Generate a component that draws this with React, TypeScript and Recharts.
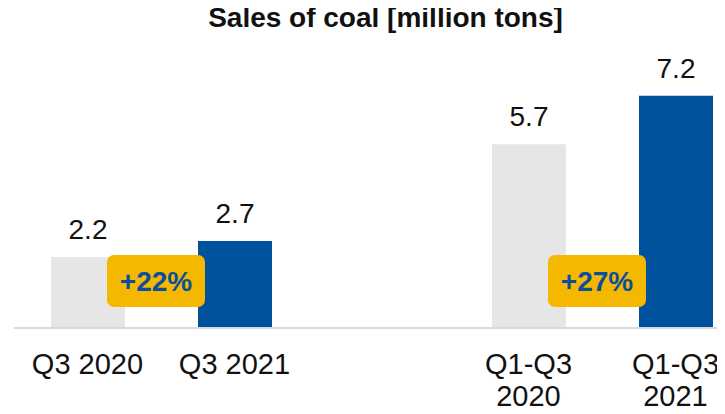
import React from 'react';
import { BarChart, Bar, XAxis, YAxis, Cell, LabelList } from 'recharts';

// categories, with an empty slot separating the quarter and the nine-month pair
const CATEGORIES = ['Q3 2020', 'Q3 2021', 'gap', 'Q1-Q3 2020', 'Q1-Q3 2021'];
const TICK_LINES: string[][] = [['Q3 2020'], ['Q3 2021'], [], ['Q1-Q3', '2020'], ['Q1-Q3', '2021']];
const SALES: (number | null)[] = [2.2, 2.7, null, 5.7, 7.2];
const GROWTH: (string | null)[] = ['+22%', null, null, '+27%', null];
const IS_CURRENT = [false, true, false, false, true];

const GREY = '#E6E6E6';
const BLUE = '#00529C';
const YELLOW = '#F5B800';
const FONT = '"Liberation Sans", Arial, sans-serif';

const data = CATEGORIES.map((name, i) => ({ name, value: SALES[i] }));

function Tick(props: any) {
  const { x, y, payload } = props;
  const idx = CATEGORIES.indexOf(payload.value);
  const lines = TICK_LINES[idx] ?? [];
  return (
    <g>
      {lines.map((line, i) => (
        <text
          key={i}
          x={x}
          y={y + 46 + i * 32}
          textAnchor="middle"
          fontSize={29}
          fontFamily={FONT}
          fill="#111"
        >
          {line}
        </text>
      ))}
    </g>
  );
}

function ValueLabel(props: any) {
  const { x, y, width, value } = props;
  if (value == null) return null;
  return (
    <text
      x={x + width / 2}
      y={y - 18}
      textAnchor="middle"
      fontSize={28}
      fontFamily={FONT}
      fill="#111"
    >
      {String(value)}
    </text>
  );
}

// badge sits in the gap right of the prior-year bar, near the baseline
function GrowthBadge(props: any) {
  const { x, y, width, height, value } = props;
  const label = GROWTH[CATEGORIES.indexOf(value)];
  if (!label) return null;
  const base = y + height;
  const cx = x + width + 31;
  const w = 98;
  const h = 52;
  const top = base - 73;
  return (
    <g>
      <rect x={cx - w / 2} y={top} width={w} height={h} rx={7} ry={7} fill={YELLOW} />
      <text
        x={cx}
        y={top + h / 2 + 10}
        textAnchor="middle"
        fontSize={28}
        fontWeight="bold"
        fontFamily={FONT}
        fill="#0B4F9C"
      >
        {label}
      </text>
    </g>
  );
}

export default function App() {
  return (
    <div
      style={{
        position: 'relative',
        margin: -8,
        width: 725,
        height: 414,
        overflow: 'hidden',
        background: '#fff',
        fontFamily: FONT,
      }}
    >
      <div
        style={{
          position: 'absolute',
          left: 385.5,
          top: 4,
          transform: 'translateX(-50%)',
          fontSize: 28,
          lineHeight: '28px',
          fontWeight: 'bold',
          whiteSpace: 'nowrap',
          color: '#111',
        }}
      >
        Sales of coal [million tons]
      </div>
      <div style={{ position: 'absolute', left: 0, top: 0 }}>
        <BarChart
          width={760}
          height={414}
          data={data}
          margin={{ top: 70, right: 11, bottom: 0, left: 14 }}
          barSize={74}
        >
          <XAxis
            dataKey="name"
            interval={0}
            tickLine={false}
            tickSize={0}
            tickMargin={0}
            axisLine={{ stroke: '#D9D9D9', strokeWidth: 2 }}
            tick={<Tick />}
            height={86}
          />
          <YAxis hide domain={[0, 8]} />
          <Bar dataKey="value" isAnimationActive={false}>
            {data.map((d, i) => (
              <Cell key={d.name} fill={IS_CURRENT[i] ? BLUE : GREY} />
            ))}
            <LabelList dataKey="value" content={<ValueLabel />} />
            <LabelList dataKey="name" content={<GrowthBadge />} />
          </Bar>
        </BarChart>
      </div>
      <div
        style={{
          position: 'absolute',
          left: 723,
          top: 401,
          width: 2,
          height: 13,
          background: YELLOW,
        }}
      />
    </div>
  );
}
